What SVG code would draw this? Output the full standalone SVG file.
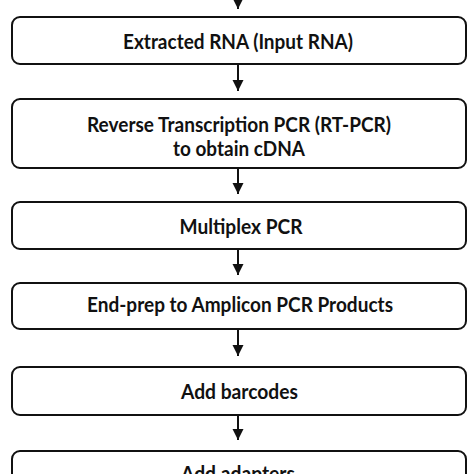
<svg xmlns="http://www.w3.org/2000/svg" width="474" height="474" viewBox="0 0 474 474">
<style>
.box{fill:#fff;stroke:#111;stroke-width:2}
.lbl{font-family:Lato,"Open Sans","Liberation Sans",sans-serif;font-weight:bold;font-size:20.5px;fill:#111;text-anchor:middle}
.con{stroke:#111;stroke-width:2;fill:none}
</style>
<defs>
<marker id="ah" markerUnits="userSpaceOnUse" markerWidth="12" markerHeight="12" viewBox="0 0 12 12" refX="11" refY="6" orient="auto">
<path d="M0,0.5 L11,6 L0,11.5 Z" fill="#111"/>
</marker>
</defs>
<rect width="474" height="474" fill="#fff"/>
<g id="connectors">
<line class="con" x1="238" y1="-5" x2="238" y2="9" marker-end="url(#ah)"/>
<line class="con" x1="238" y1="64" x2="238" y2="91" marker-end="url(#ah)"/>
<line class="con" x1="238" y1="168" x2="238" y2="194" marker-end="url(#ah)"/>
<line class="con" x1="238" y1="249" x2="238" y2="275" marker-end="url(#ah)"/>
<line class="con" x1="238" y1="329" x2="238" y2="356" marker-end="url(#ah)"/>
<line class="con" x1="238" y1="415" x2="238" y2="440" marker-end="url(#ah)"/>
</g>
<g id="n1"><rect class="box" x="12" y="17" width="454" height="47" rx="8"/><text class="lbl" x="238" y="49" textLength="230" lengthAdjust="spacingAndGlyphs">Extracted RNA (Input RNA)</text></g>
<g id="n2"><rect class="box" x="12" y="99" width="454" height="69" rx="8"/><text class="lbl" x="239" y="132" textLength="304" lengthAdjust="spacingAndGlyphs">Reverse Transcription PCR (RT-PCR)</text><text class="lbl" x="239" y="156" textLength="132" lengthAdjust="spacingAndGlyphs">to obtain cDNA</text></g>
<g id="n3"><rect class="box" x="12" y="202" width="454" height="47" rx="8"/><text class="lbl" x="241" y="234" textLength="123" lengthAdjust="spacingAndGlyphs">Multiplex PCR</text></g>
<g id="n4"><rect class="box" x="12" y="283" width="454" height="46" rx="8"/><text class="lbl" x="240" y="312" textLength="306" lengthAdjust="spacingAndGlyphs">End-prep to Amplicon PCR Products</text></g>
<g id="n5"><rect class="box" x="12" y="367" width="454" height="48" rx="8"/><text class="lbl" x="239.5" y="399" textLength="117" lengthAdjust="spacingAndGlyphs">Add barcodes</text></g>
<g id="n6"><rect class="box" x="12" y="451" width="454" height="50" rx="8"/><text class="lbl" x="238" y="481" textLength="114" lengthAdjust="spacingAndGlyphs">Add adapters</text></g>
</svg>
